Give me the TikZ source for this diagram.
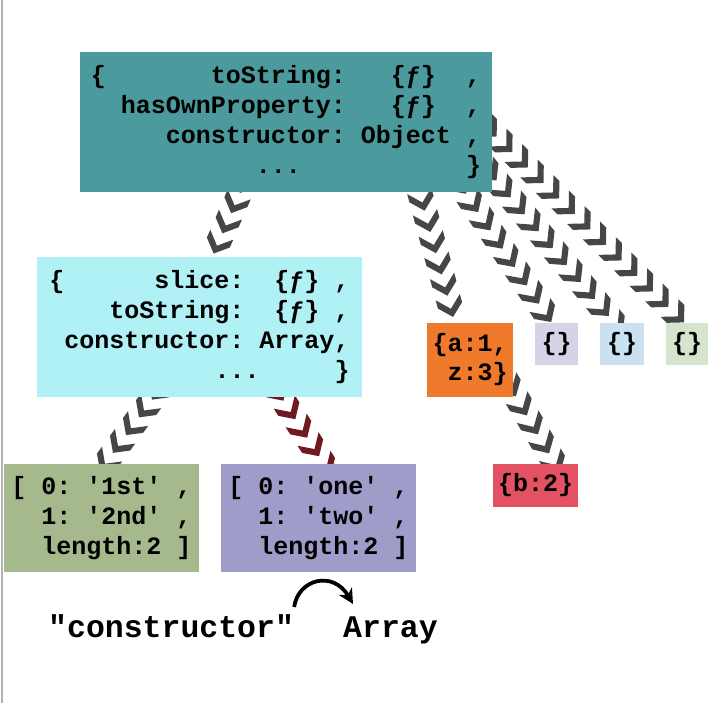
\documentclass[tikz,border=0pt]{standalone}
\usepackage{fontspec}
\setmonofont{Liberation Mono}
\usetikzlibrary{decorations.markings,arrows.meta}
\pgfdeclarelayer{bg}
\pgfsetlayers{bg,main}
\definecolor{tealbox}{HTML}{4B9B9E}
\definecolor{cyanbox}{HTML}{AFF1F4}
\definecolor{greenbox}{HTML}{A5B98C}
\definecolor{purplebox}{HTML}{A09CC9}
\definecolor{orangebox}{HTML}{EF7A2B}
\definecolor{lavbox}{HTML}{D6D2E8}
\definecolor{bluebox}{HTML}{C9E1F0}
\definecolor{paleGreen}{HTML}{D6E4CD}
\definecolor{redbox}{HTML}{E35263}
\definecolor{chaingray}{HTML}{464646}
\definecolor{chainred}{HTML}{6E1A20}
\tikzset{
  jsbox/.style={rectangle, inner sep=0pt, align=left, text=black,
    font=\ttfamily\bfseries\fontsize{25}{30}\selectfont},
  lbl/.style={inner sep=0pt, text=black,
    font=\ttfamily\bfseries\fontsize{31.5}{36}\selectfont},
  chev/.style={decorate, decoration={markings,
    mark=between positions 0 and 1 step 22pt with {\fill[#1] (8.5pt,0pt) -- (-3.5pt,12.5pt) -- (-12pt,12.5pt) -- (0pt,0pt) -- (-12pt,-12.5pt) -- (-3.5pt,-12.5pt) -- cycle;}}},
  chev/.default=chaingray
}
\begin{document}
\begin{tikzpicture}[x=1pt,y=-1pt]
\useasboundingbox (0,0) rectangle (727,703);

\node[jsbox, fill=tealbox, minimum width=412pt, minimum height=140pt] (top) at (286,122)
  {\{~~~~~~~toString:~~~\{ƒ\}~~,\\~~hasOwnProperty:~~~\{ƒ\}~~,\\~~~~~constructor:~Object~,\\~~~~~~~~~~~...~~~~~~~~~~~\}};
\node[jsbox, fill=cyanbox, minimum width=325pt, minimum height=140pt] (proto) at (199.5,327)
  {\{~~~~~~slice:~~\{ƒ\}~,\\~~~~toString:~~\{ƒ\}~,\\~constructor:~Array,\\~~~~~~~~~~~...~~~~~\}};
\node[jsbox, fill=greenbox, minimum width=195pt, minimum height=108pt] (arrA) at (101.5,518)
  {[~0:~'1st'~,\\~~1:~'2nd'~,\\~~length:2~]};
\node[jsbox, fill=purplebox, minimum width=195pt, minimum height=108pt] (arrB) at (318.5,518)
  {[~0:~'one'~,\\~~1:~'two'~,\\~~length:2~]};
\node[jsbox, fill=orangebox, minimum width=86pt, minimum height=74pt,
  font=\ttfamily\bfseries\fontsize{25}{29}\selectfont] (objA) at (470,360)
  {\{a:1,\\~z:3\}};
\node[jsbox, fill=lavbox, minimum width=43pt, minimum height=42pt] (e1) at (556.5,344) {\{\}};
\node[jsbox, fill=bluebox, minimum width=44pt, minimum height=42pt] (e2) at (622,344) {\{\}};
\node[jsbox, fill=paleGreen, minimum width=42pt, minimum height=42pt] (e3) at (687,344) {\{\}};
\node[jsbox, fill=redbox, minimum width=85pt, minimum height=43pt] (objB) at (535.5,485.5) {\{b:2\}};

\node[lbl, anchor=base west] (lblc) at (48,637) {"constructor"};
\node[lbl, anchor=base west] (lbla) at (343,637) {Array};
\draw[line width=3.8pt, -{Stealth[length=15pt,width=15pt]}]
  ([shift={(0,-30)}]lblc.base east) .. controls +(4,-28) and +(-20,-34) .. ([shift={(10,-33)}]lbla.base west);

\begin{pgfonlayer}{bg}
\fill[white] (0,0) rectangle (727,703);
\draw[gray!60, line width=2pt] (2,0) -- (2,703);
\path[chev] ([shift={(-34,43)}]top.center) -- ([shift={(10.5,5)}]proto.north);
\path[chev] ([shift={(125,38)}]top.center) -- ([shift={(-14,5)}]objA.north);
\path[chev] ([shift={(151,28)}]top.center) -- ([shift={(-1.5,5)}]e1.north);
\path[chev] ([shift={(177,18)}]top.center) -- ([shift={(-3.5,5)}]e2.north);
\path[chev] ([shift={(189,-7)}]top.center) -- ([shift={(2.5,5)}]e3.north);
\path[chev] ([shift={(30.5,10)}]objA.center) -- ([shift={(22,4)}]objB.north);
\path[chev] ([shift={(-29.5,48)}]proto.center) -- ([shift={(0.5,4)}]arrA.north);
\path[chev=chainred] ([shift={(67.5,48)}]proto.center) -- ([shift={(8,4)}]arrB.north);
\end{pgfonlayer}
\end{tikzpicture}
\end{document}
